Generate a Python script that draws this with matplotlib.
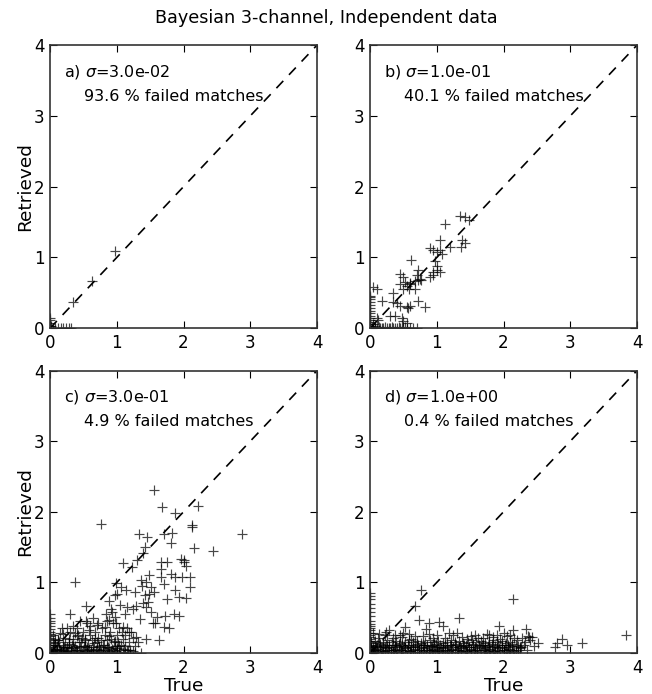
import matplotlib
matplotlib.use('Agg')
import matplotlib.pyplot as plt

# panel settings
labels = ['a)', 'b)', 'c)', 'd)']
sigmas = [3.0e-02, 1.0e-01, 3.0e-01, 1.0e+00]
failed = [93.6, 40.1, 4.9, 0.4]

# a) sigma = 0.03
a_true = [0.35, 0.63, 0.98,
          0.0, 0.04, 0.08, 0.12, 0.16, 0.2, 0.24, 0.28, 0.32,
          0.0, 0.0, 0.0, 0.0, 0.02]
a_ret = [0.37, 0.67, 1.09,
         0.0, 0.0, 0.0, 0.0, 0.0, 0.0, 0.0, 0.0, 0.0,
         0.03, 0.07, 0.11, 0.15, 0.03]

# b) sigma = 0.1
b_true = [1.35, 1.42, 1.48, 1.12, 1.05, 1.38, 1.42, 1.37, 1.2,
          0.9, 0.95, 1.0, 1.05, 1.08, 0.98, 1.0, 1.0, 1.05, 0.95, 0.9, 0.95,
          0.62, 0.72, 0.7, 0.75, 0.72, 0.68, 0.76,
          0.45, 0.5, 0.55, 0.6, 0.58, 0.5, 0.45, 0.52, 0.68, 0.6,
          0.35, 0.1, 0.05,
          0.18, 0.35, 0.4, 0.45, 0.55, 0.6, 0.72, 0.82, 0.57,
          0.3, 0.38, 0.48, 0.5, 0.55, 0.1, 0.12, 0.05, 0.08,
          0.0, 0.05, 0.1, 0.15, 0.2, 0.25, 0.3, 0.35, 0.4, 0.45, 0.5, 0.55, 0.6, 0.65, 0.7,
          0.03, 0.08, 0.13, 0.18, 0.23, 0.28, 0.33, 0.38, 0.43, 0.48, 0.53,
          0.0, 0.0, 0.0, 0.0, 0.0, 0.0, 0.0, 0.0, 0.0, 0.0, 0.0, 0.0, 0.0, 0.0]
b_ret = [1.58, 1.57, 1.53, 1.47, 1.25, 1.25, 1.2, 1.15, 1.15,
         1.13, 1.1, 1.08, 1.1, 1.05, 0.95, 0.88, 0.82, 0.8, 0.8, 0.72, 0.75,
         0.96, 0.82, 0.75, 0.7, 0.68, 0.67, 0.68,
         0.77, 0.72, 0.6, 0.62, 0.55, 0.55, 0.62, 0.65, 0.55, 0.64,
         0.5, 0.55, 0.58,
         0.38, 0.37, 0.35, 0.32, 0.3, 0.32, 0.38, 0.3, 0.29,
         0.17, 0.17, 0.15, 0.1, 0.08, 0.15, 0.12, 0.06, 0.03,
         0.0, 0.0, 0.0, 0.0, 0.0, 0.0, 0.0, 0.0, 0.0, 0.0, 0.0, 0.0, 0.0, 0.0, 0.0,
         0.02, 0.01, 0.02, 0.01, 0.02, 0.01, 0.02, 0.01, 0.02, 0.01, 0.02,
         0.03, 0.06, 0.09, 0.12, 0.15, 0.18, 0.21, 0.25, 0.29, 0.33, 0.37, 0.41, 0.44, 0.46]

# c) sigma = 0.3
c_true = [1.56, 1.68, 1.87, 2.22, 0.76, 2.13, 2.13, 1.33, 1.46, 1.71, 1.83, 1.82,
          2.87, 2.44, 2.16, 1.43, 1.40, 1.31, 1.10, 1.23, 1.96, 2.0, 2.0, 2.03,
          1.67, 1.76, 1.66, 1.81, 1.88, 1.98, 2.1, 2.1, 1.66, 1.71,
          1.49, 1.36, 1.44, 1.51, 1.56, 1.49, 0.38, 0.99, 1.06, 1.01, 0.97, 1.14, 1.27,
          1.88, 1.93, 2.03, 1.76, 0.54, 0.89, 0.92, 1.16, 1.29, 1.39, 1.44,
          0.30, 0.84, 0.97, 1.61, 1.73, 1.86, 1.93, 1.54, 1.58, 1.71, 1.79,
          1.44, 1.63, 0.35, 0.54, 0.64, 0.72, 0.82, 0.99, 1.09, 1.19, 1.29,
          1.38, 1.42, 1.47, 1.52, 1.35, 1.25, 1.12, 1.05, 0.93, 0.88,
          0.05, 0.1, 0.12, 0.15, 0.15, 0.2, 0.22, 0.25, 0.28, 0.3, 0.32, 0.35,
          0.38, 0.4, 0.42, 0.45, 0.47, 0.5, 0.52, 0.55, 0.57, 0.6, 0.6, 0.63,
          0.65, 0.68, 0.7, 0.72, 0.75, 0.78, 0.8, 0.82, 0.85, 0.87, 0.9, 0.92,
          0.95, 0.97, 1.0, 1.02, 1.05, 1.08, 1.1, 1.12, 1.15, 1.18, 1.2, 1.25,
          1.28, 1.32, 0.08, 0.18, 0.27, 0.33, 0.43, 0.48, 0.53, 0.58, 0.62, 0.67,
          0.73, 0.77, 0.83, 0.88, 0.93, 0.98, 1.03, 1.07, 1.13, 1.17, 1.22, 0.2,
          0.37, 0.55, 0.7, 0.85, 0.25, 0.45, 0.03, 0.07, 0.13, 0.17, 0.23, 0.06,
          0.11, 0.19, 0.26, 0.34, 0.41, 0.49, 0.56, 0.64, 0.71, 0.79, 0.86, 0.94,
          1.01, 1.09, 1.16, 1.24,
          0.04, 0.09, 0.14, 0.21, 0.29, 0.36, 0.44, 0.51, 0.59, 0.66, 0.74, 0.81,
          0.89, 0.96, 1.04, 1.11, 0.02, 0.1, 0.17, 0.24, 0.31, 0.39, 0.46, 0.54,
          0.61, 0.69, 0.76, 0.84, 0.91, 0.99, 0.05, 0.12, 0.2, 0.28, 0.4, 0.52,
          0.0, 0.08, 0.16, 0.24, 0.32, 0.4, 0.48, 0.56, 0.64, 0.72, 0.8, 0.88,
          0.96, 1.04, 1.12, 1.2, 1.28, 1.36,
          0.0, 0.0, 0.0, 0.0, 0.0, 0.0, 0.0, 0.0, 0.0, 0.0, 0.0, 0.0, 0.0, 0.0, 0.0, 0.0]
c_ret = [2.31, 2.07, 1.98, 2.08, 1.83, 1.81, 1.78, 1.69, 1.64, 1.69, 1.70, 1.56,
         1.69, 1.45, 1.49, 1.50, 1.42, 1.32, 1.27, 1.22, 1.33, 1.32, 1.29, 1.23,
         1.29, 1.29, 1.19, 1.12, 1.08, 1.08, 1.07, 0.93, 1.08, 0.98,
         1.10, 1.03, 1.00, 0.93, 0.86, 0.84, 1.00, 0.99, 0.93, 0.84, 0.82, 0.89, 0.86,
         0.89, 0.79, 0.78, 0.76, 0.66, 0.74, 0.63, 0.65, 0.67, 0.71, 0.65,
         0.56, 0.56, 0.51, 0.51, 0.53, 0.55, 0.53, 0.42, 0.42, 0.37, 0.35,
         0.20, 0.18, 0.39, 0.46, 0.49, 0.42, 0.37, 0.42, 0.37, 0.30, 0.23,
         0.95, 0.82, 0.72, 0.58, 0.48, 0.62, 0.55, 0.68, 0.58, 0.47,
         0.05, 0.10, 0.18, 0.28, 0.05, 0.12, 0.22, 0.08, 0.15, 0.30, 0.05, 0.20,
         0.10, 0.35, 0.25, 0.08, 0.15, 0.30, 0.20, 0.05, 0.12, 0.38, 0.25, 0.18,
         0.08, 0.30, 0.15, 0.22, 0.05, 0.35, 0.12, 0.25, 0.18, 0.08, 0.30, 0.20,
         0.42, 0.10, 0.25, 0.15, 0.05, 0.30, 0.20, 0.10, 0.35, 0.15, 0.05, 0.22,
         0.10, 0.15, 0.20, 0.35, 0.03, 0.12, 0.03, 0.22, 0.10, 0.32, 0.04, 0.22,
         0.10, 0.18, 0.04, 0.24, 0.06, 0.17, 0.35, 0.12, 0.25, 0.04, 0.30, 0.04,
         0.28, 0.42, 0.40, 0.45, 0.35, 0.45, 0.02, 0.14, 0.06, 0.02, 0.07, 0.12,
         0.03, 0.08, 0.02, 0.09, 0.05, 0.02, 0.08, 0.03, 0.06, 0.02, 0.09, 0.04,
         0.07, 0.02, 0.05, 0.03,
         0.12, 0.06, 0.15, 0.09, 0.13, 0.07, 0.16, 0.10, 0.06, 0.14, 0.09, 0.12,
         0.07, 0.15, 0.10, 0.06, 0.02, 0.04, 0.02, 0.03, 0.01, 0.04, 0.02, 0.03,
         0.01, 0.04, 0.02, 0.03, 0.01, 0.03, 0.25, 0.18, 0.27, 0.20, 0.24, 0.19,
         0.0, 0.0, 0.0, 0.0, 0.0, 0.0, 0.0, 0.0, 0.0, 0.0, 0.0, 0.0,
         0.0, 0.0, 0.0, 0.0, 0.0, 0.0,
         0.03, 0.06, 0.09, 0.12, 0.15, 0.18, 0.21, 0.24, 0.27, 0.3, 0.34, 0.38, 0.42, 0.46, 0.5, 0.55]

# d) sigma = 1.0
d_true = [0.77, 0.67, 2.14, 3.84, 0.74, 1.04, 1.09, 0.88, 0.84, 1.33,
          0.53, 0.29, 1.93, 2.14, 2.33, 0.45, 0.58, 2.42, 2.52,
          2.87, 2.80, 2.95, 3.17, 2.77, 2.35, 2.40, 2.30, 2.25, 2.45,
          0.03, 0.08, 0.12, 0.17, 0.22, 0.27, 0.31, 0.36, 0.41, 0.46, 0.50, 0.55,
          0.60, 0.65, 0.70, 0.74, 0.79, 0.84, 0.89, 0.93, 0.98, 1.03, 1.08, 1.13,
          1.17, 1.22, 1.27, 1.32, 1.37, 1.42, 1.46, 1.51, 1.56, 1.61, 1.66, 1.71,
          1.75, 1.80, 1.85, 1.90, 1.95, 2.00, 2.05, 2.10, 2.16, 2.22,
          0.05, 0.10, 0.15, 0.19, 0.24, 0.29, 0.34, 0.38, 0.43, 0.48, 0.53, 0.57,
          0.62, 0.67, 0.72, 0.77, 0.81, 0.86, 0.91, 0.96, 1.00, 1.05, 1.10, 1.15,
          1.20, 1.25, 1.29, 1.34, 1.39, 1.44, 1.49, 1.54, 1.58, 1.63, 1.68, 1.73,
          1.78, 1.83, 1.88, 1.92, 1.97, 2.02, 2.07, 2.12, 2.18, 2.26,
          0.02, 0.07, 0.13, 0.20, 0.26, 0.33, 0.39, 0.45, 0.52, 0.58, 0.64, 0.71,
          0.77, 0.83, 0.90, 0.96, 1.02, 1.09, 1.15, 1.21, 1.28, 1.34, 1.40, 1.47,
          1.53, 1.59, 1.66, 1.72, 1.78, 1.85, 1.91, 1.97, 2.04, 2.10, 2.20, 2.32,
          0.12, 0.22, 0.35, 0.48, 0.62, 0.80, 0.95, 1.12, 1.25, 1.38, 1.45, 1.52,
          1.62, 1.70, 1.78, 1.85, 1.95, 2.05, 2.15, 2.28, 2.38,
          0.01, 0.06, 0.11, 0.15, 0.20, 0.25, 0.29, 0.34, 0.39, 0.43, 0.48, 0.53,
          0.57, 0.62, 0.67, 0.71, 0.76, 0.81, 0.85, 0.90, 0.95, 0.99, 1.04, 1.09,
          1.13, 1.18, 1.23, 1.27, 1.32, 1.37, 1.41, 1.46, 1.51, 1.55, 1.60, 1.65,
          1.69, 1.74, 1.79, 1.83, 1.88, 1.93, 1.98, 2.03, 2.08, 2.13, 2.19, 2.24,
          0.04, 0.09, 0.18, 0.23, 0.32, 0.37, 0.46, 0.51, 0.60, 0.65, 0.74, 0.79,
          0.88, 0.93, 1.02, 1.07, 1.16, 1.21, 1.30, 1.35, 1.44, 1.49, 1.58, 1.63,
          1.72, 1.77, 1.86, 1.91, 2.00, 2.06, 2.14, 2.21,
          0.04, 0.14, 0.24, 0.37, 0.50, 0.68, 0.88, 1.00, 1.18, 1.30, 1.57, 1.75,
          1.90, 2.00, 2.09, 2.36,
          0.0, 0.0, 0.0, 0.0, 0.0, 0.0, 0.0, 0.0, 0.0, 0.0, 0.0, 0.0, 0.0, 0.0,
          0.0, 0.0, 0.0, 0.0, 0.0, 0.0, 0.0, 0.0, 0.0, 0.0]
d_ret = [0.90, 0.67, 0.77, 0.26, 0.47, 0.44, 0.39, 0.42, 0.34, 0.49,
         0.37, 0.33, 0.39, 0.33, 0.34, 0.26, 0.27, 0.23, 0.14,
         0.20, 0.14, 0.12, 0.14, 0.08, 0.05, 0.18, 0.12, 0.08, 0.10,
         0.03, 0.05, 0.02, 0.04, 0.03, 0.05, 0.02, 0.04, 0.03, 0.05, 0.02, 0.04,
         0.03, 0.05, 0.02, 0.04, 0.03, 0.05, 0.02, 0.04, 0.03, 0.05, 0.02, 0.04,
         0.03, 0.05, 0.02, 0.04, 0.03, 0.05, 0.02, 0.04, 0.03, 0.05, 0.02, 0.04,
         0.03, 0.05, 0.02, 0.04, 0.03, 0.05, 0.02, 0.04, 0.03, 0.05,
         0.09, 0.11, 0.08, 0.10, 0.12, 0.09, 0.11, 0.08, 0.10, 0.12, 0.09, 0.11,
         0.08, 0.10, 0.12, 0.09, 0.11, 0.08, 0.10, 0.12, 0.09, 0.11, 0.08, 0.10,
         0.12, 0.09, 0.11, 0.08, 0.10, 0.12, 0.09, 0.11, 0.08, 0.10, 0.12, 0.09,
         0.11, 0.08, 0.10, 0.12, 0.09, 0.11, 0.08, 0.10, 0.12, 0.09,
         0.15, 0.17, 0.14, 0.16, 0.18, 0.15, 0.17, 0.14, 0.16, 0.18, 0.15, 0.17,
         0.14, 0.16, 0.18, 0.15, 0.17, 0.14, 0.16, 0.18, 0.15, 0.17, 0.14, 0.16,
         0.18, 0.15, 0.17, 0.14, 0.16, 0.18, 0.15, 0.17, 0.14, 0.16, 0.18, 0.15,
         0.22, 0.25, 0.21, 0.23, 0.20, 0.24, 0.22, 0.21, 0.25, 0.23, 0.20, 0.24,
         0.22, 0.21, 0.25, 0.23, 0.20, 0.24, 0.22, 0.21, 0.23,
         0.07, 0.01, 0.06, 0.13, 0.01, 0.07, 0.12, 0.01, 0.06, 0.13, 0.01, 0.07,
         0.12, 0.01, 0.06, 0.13, 0.01, 0.07, 0.12, 0.01, 0.06, 0.13, 0.01, 0.07,
         0.12, 0.01, 0.06, 0.13, 0.01, 0.07, 0.12, 0.01, 0.06, 0.13, 0.01, 0.07,
         0.12, 0.01, 0.06, 0.13, 0.01, 0.07, 0.12, 0.01, 0.06, 0.13, 0.01, 0.07,
         0.04, 0.10, 0.03, 0.09, 0.05, 0.11, 0.04, 0.10, 0.03, 0.09, 0.05, 0.11,
         0.04, 0.10, 0.03, 0.09, 0.05, 0.11, 0.04, 0.10, 0.03, 0.09, 0.05, 0.11,
         0.04, 0.10, 0.03, 0.09, 0.05, 0.11, 0.04, 0.10,
         0.28, 0.27, 0.30, 0.26, 0.28, 0.24, 0.27, 0.26, 0.28, 0.29, 0.26, 0.27,
         0.25, 0.28, 0.26, 0.24,
         0.02, 0.04, 0.06, 0.08, 0.10, 0.12, 0.14, 0.17, 0.20, 0.23, 0.26, 0.29,
         0.32, 0.35, 0.38, 0.41, 0.46, 0.52, 0.58, 0.64, 0.70, 0.76, 0.81, 0.85]

trues = [a_true, b_true, c_true, d_true]
rets = [a_ret, b_ret, c_ret, d_ret]

fig = plt.figure(figsize=(6.52, 6.94), dpi=100)
fig.text(0.5, 0.974, 'Bayesian 3-channel, Independent data',
         ha='center', va='center', fontsize=12.7)

rects = [[0.0767, 0.527, 0.4095, 0.408],
         [0.5675, 0.527, 0.4095, 0.408],
         [0.0767, 0.059, 0.4095, 0.407],
         [0.5675, 0.059, 0.4095, 0.407]]

for i in range(4):
    ax = fig.add_axes(rects[i])
    ax.plot([0, 4], [0, 4], color='k', lw=1.2, dashes=(6, 5))
    ax.plot(trues[i], rets[i], '+', color='k', ms=6.5, mew=0.85, alpha=0.72)
    ax.set_xlim(0, 4)
    ax.set_ylim(0, 4)
    ax.set_xticks([0, 1, 2, 3, 4])
    ax.set_yticks([0, 1, 2, 3, 4])
    ax.tick_params(direction='in', top=True, right=True, length=5,
                   labelsize=12, pad=4)
    for sp in ax.spines.values():
        sp.set_linewidth(1.2)
        sp.set_color('#333333')
    ax.text(0.052, 0.906, r'%s $\sigma$=%.1e' % (labels[i], sigmas[i]),
            transform=ax.transAxes, fontsize=11.5, va='center')
    ax.text(0.127, 0.82, '%.1f %% failed matches' % failed[i],
            transform=ax.transAxes, fontsize=11.5, va='center')
    if i % 2 == 0:
        ax.set_ylabel('Retrieved', fontsize=13.3, labelpad=0)
    if i >= 2:
        ax.set_xlabel('True', fontsize=13.3, labelpad=0)

fig.savefig('out.png', dpi=100)
